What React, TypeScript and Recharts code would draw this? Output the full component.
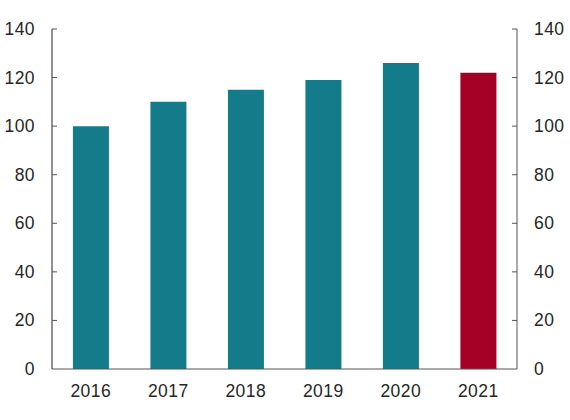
import { ComposedChart, Bar, Line, XAxis, YAxis, Cell } from 'recharts'

document.body.style.margin = '0'

const YEARS = ['2016', '2017', '2018', '2019', '2020', '2021']
const VALUES = [100, 110, 115, 119, 126, 122]
const Y_TICKS = [0, 20, 40, 60, 80, 100, 120, 140]

const TEAL = '#137b8a'
const RED = '#a50026'
const AXIS = '#555555'
const FONT = { fill: '#262626', fontSize: 17.5, fontFamily: 'Liberation Sans, Arial, sans-serif', letterSpacing: 0.4 }

const data = YEARS.map((year, i) => ({ year, value: VALUES[i] }))

// ticks point inward, so draw the little mark and the label ourselves
function LeftTick({ x, y, payload }: any) {
  return (
    <g>
      {payload.value !== 0 && <line x1={x} x2={x + 5} y1={y} y2={y} stroke={AXIS} />}
      <text x={x - 17} y={y + 6} textAnchor="end" {...FONT}>{payload.value}</text>
    </g>
  )
}

function RightTick({ x, y, payload }: any) {
  return (
    <g>
      {payload.value !== 0 && <line x1={x - 5} x2={x} y1={y} y2={y} stroke={AXIS} />}
      <text x={x + 17} y={y + 6} textAnchor="start" {...FONT}>{payload.value}</text>
    </g>
  )
}

function BottomTick({ x, y, payload }: any) {
  return (
    <text x={x} y={y + 28} textAnchor="middle" {...FONT}>{payload.value}</text>
  )
}

export default function App() {
  return (
    <ComposedChart
      width={570}
      height={420}
      data={data}
      margin={{ top: 29, right: 0, bottom: 21, left: 0 }}
      barCategoryGap="27%"
    >
      <XAxis
        dataKey="year"
        tick={<BottomTick />}
        tickLine={false}
        tickSize={0}
        tickMargin={0}
        axisLine={{ stroke: AXIS }}
        height={30}
        interval={0}
      />
      <YAxis
        yAxisId="left"
        orientation="left"
        width={52}
        domain={[0, 140]}
        ticks={Y_TICKS}
        tick={<LeftTick />}
        tickLine={false}
        tickSize={0}
        tickMargin={0}
        axisLine={{ stroke: '#222222' }}
        interval={0}
      />
      <YAxis
        yAxisId="right"
        orientation="right"
        width={53}
        domain={[0, 140]}
        ticks={Y_TICKS}
        tick={<RightTick />}
        tickLine={false}
        tickSize={0}
        tickMargin={0}
        axisLine={{ stroke: AXIS }}
        interval={0}
      />
      <Bar yAxisId="left" dataKey="value" isAnimationActive={false}>
        {data.map((d, i) => (
          <Cell key={d.year} fill={i === data.length - 1 ? RED : TEAL} />
        ))}
      </Bar>
      {/* invisible series so the right axis gets its scale */}
      <Line yAxisId="right" dataKey="value" stroke="none" dot={false} activeDot={false} isAnimationActive={false} />
    </ComposedChart>
  )
}
